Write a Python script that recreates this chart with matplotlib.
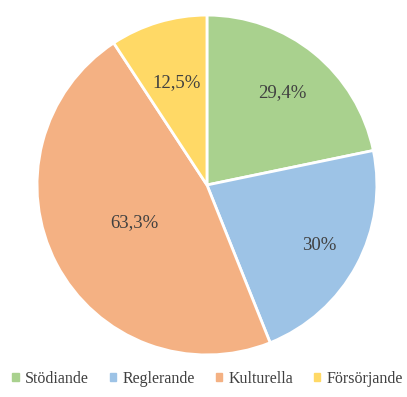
import numpy as np
import matplotlib.pyplot as plt
from matplotlib.patches import Patch

kategorier = ["Stödiande", "Reglerande", "Kulturella", "Försörjande"]
varden = [29.4, 30, 63.3, 12.5]
etiketter = ["29,4%", "30%", "63,3%", "12,5%"]
farger = ["#A9D18E", "#9DC3E6", "#F4B183", "#FFD966"]
avstand = [0.70, 0.75, 0.48, 0.63]

plt.rcParams['font.family'] = ['Liberation Serif', 'DejaVu Serif']

fig = plt.figure(figsize=(4.07, 3.97), dpi=100)
ax = fig.add_axes([0.091, 0.106, 0.835, 0.856])

wedges, _ = ax.pie(varden, colors=farger, startangle=90, counterclock=False,
                   wedgeprops=dict(edgecolor="white", linewidth=2))
ax.set_xlim(-1, 1)
ax.set_ylim(-1, 1)

for w, lab, r in zip(wedges, etiketter, avstand):
    ang = np.deg2rad((w.theta1 + w.theta2) / 2)
    ax.text(r * np.cos(ang), r * np.sin(ang), lab, ha="center", va="center",
            fontsize=13.5, color="#404040")

handles = [Patch(color=c, label=k) for c, k in zip(farger, kategorier)]
fig.legend(handles=handles, loc="center", bbox_to_anchor=(0.51, 0.045), ncol=4,
           frameon=False, fontsize=11.5, handlelength=0.4, handleheight=0.4,
           handletextpad=0.4, columnspacing=1.3, labelcolor="#404040")

fig.savefig("out.png", dpi=100)
